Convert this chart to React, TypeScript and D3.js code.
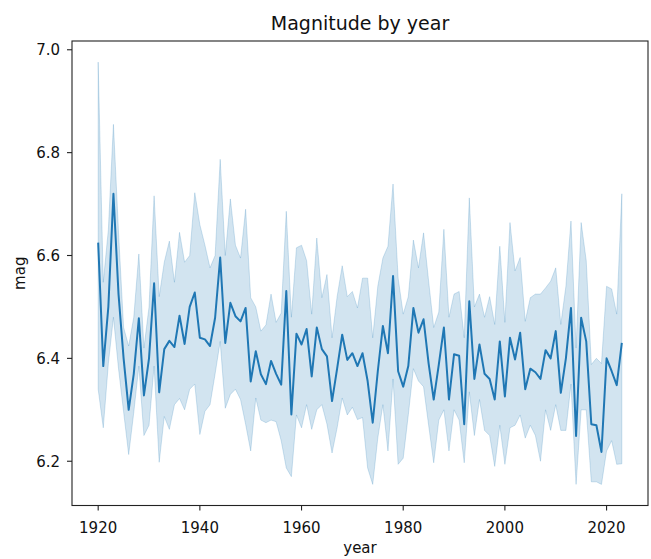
import React from "react";
import * as d3 from "d3";

const years: number[] = d3.range(1920, 2024);

const meanMag: number[] = [
  6.625, 6.385, 6.5, 6.72, 6.525, 6.4, 6.3, 6.37, 6.478, 6.328,
  6.4, 6.546, 6.334, 6.418, 6.434, 6.422, 6.483, 6.428, 6.5, 6.528,
  6.44, 6.437, 6.424, 6.479, 6.596, 6.43, 6.508, 6.482, 6.472, 6.498,
  6.355, 6.414, 6.369, 6.35, 6.395, 6.37, 6.349, 6.531, 6.291, 6.448,
  6.427, 6.457, 6.365, 6.46, 6.418, 6.404, 6.317, 6.38, 6.446, 6.397,
  6.41, 6.385, 6.41, 6.356, 6.275, 6.375, 6.463, 6.41, 6.56, 6.375,
  6.345, 6.385, 6.498, 6.45, 6.476, 6.39, 6.32, 6.388, 6.46, 6.32,
  6.408, 6.405, 6.272, 6.511, 6.36, 6.427, 6.37, 6.36, 6.32, 6.433,
  6.326, 6.44, 6.398, 6.45, 6.34, 6.38, 6.373, 6.36, 6.416, 6.4,
  6.453, 6.333, 6.4, 6.498, 6.249, 6.479, 6.433, 6.272, 6.27, 6.218,
  6.4, 6.375, 6.348, 6.43,
];

const upperMag: number[] = [
  6.976, 6.548, 6.65, 6.855, 6.645, 6.46, 6.424, 6.48, 6.603, 6.42,
  6.5, 6.716, 6.52, 6.587, 6.628, 6.548, 6.645, 6.587, 6.6, 6.722,
  6.66, 6.62, 6.576, 6.6, 6.787, 6.6, 6.71, 6.62, 6.595, 6.69,
  6.518, 6.5, 6.453, 6.465, 6.525, 6.47, 6.488, 6.686, 6.48, 6.615,
  6.62, 6.59, 6.486, 6.634, 6.518, 6.563, 6.44, 6.52, 6.58, 6.52,
  6.53, 6.498, 6.556, 6.556, 6.44, 6.54, 6.595, 6.618, 6.739, 6.556,
  6.486, 6.52, 6.63, 6.576, 6.644, 6.55, 6.46, 6.49, 6.651, 6.48,
  6.525, 6.53, 6.44, 6.712, 6.5, 6.525, 6.48, 6.52, 6.466, 6.618,
  6.47, 6.664, 6.57, 6.596, 6.472, 6.518, 6.525, 6.525, 6.537, 6.55,
  6.576, 6.466, 6.54, 6.667, 6.42, 6.664, 6.59, 6.388, 6.4, 6.39,
  6.54, 6.535, 6.486, 6.72,
];

const lowerMag: number[] = [
  6.34, 6.265, 6.39, 6.48, 6.38, 6.296, 6.213, 6.295, 6.385, 6.25,
  6.27, 6.385, 6.198, 6.287, 6.262, 6.31, 6.322, 6.3, 6.34, 6.35,
  6.252, 6.297, 6.31, 6.37, 6.433, 6.303, 6.33, 6.34, 6.32, 6.272,
  6.22, 6.323, 6.28, 6.275, 6.28, 6.277, 6.24, 6.187, 6.17, 6.29,
  6.265, 6.31, 6.262, 6.3, 6.31, 6.272, 6.216, 6.265, 6.323, 6.29,
  6.305, 6.281, 6.285, 6.187, 6.155, 6.245, 6.31, 6.22, 6.36, 6.194,
  6.206, 6.29, 6.38, 6.356, 6.345, 6.27, 6.197, 6.28, 6.3, 6.22,
  6.3, 6.28, 6.197, 6.335, 6.25, 6.32, 6.26, 6.25, 6.19, 6.27,
  6.194, 6.265, 6.27, 6.29, 6.245, 6.27, 6.25, 6.2, 6.3, 6.26,
  6.31, 6.26, 6.26, 6.35, 6.155, 6.3, 6.3, 6.16, 6.16, 6.155,
  6.22, 6.24, 6.194, 6.195,
];

const xTicks: number[] = [1920, 1940, 1960, 1980, 2000, 2020];
const yTicks: number[] = [6.2, 6.4, 6.6, 6.8, 7.0];

const W = 651;
const H = 559;
const M = { left: 72, right: 648, top: 41, bottom: 505.5 };
const BLUE = "#1f77b4";
const FONT = "DejaVu Sans, sans-serif";

export default function App() {
  const x0 = d3.min(years)!, x1 = d3.max(years)!;
  const xPad = (x1 - x0) * 0.05;
  const x = d3.scaleLinear().domain([x0 - xPad, x1 + xPad]).range([M.left, M.right]);
  const yMin = d3.min(lowerMag)!, yMax = d3.max(upperMag)!;
  const yPad = (yMax - yMin) * 0.05;
  const y = d3.scaleLinear().domain([yMin - yPad, yMax + yPad]).range([M.bottom, M.top]);

  const rows = years.map((yr, i) => ({ yr, m: meanMag[i], lo: lowerMag[i], hi: upperMag[i] }));
  const area = d3.area<any>().x((d) => x(d.yr)).y0((d) => y(d.lo)).y1((d) => y(d.hi));
  const line = d3.line<any>().x((d) => x(d.yr)).y((d) => y(d.m));

  return (
    <svg width={W} height={H} style={{ position: "absolute", left: 0, top: 0, background: "#fff" }} fontFamily={FONT}>
      <rect x={0} y={0} width={W} height={H} fill="#fff" />
      <path d={area(rows) || ""} fill={BLUE} fillOpacity={0.2} stroke={BLUE} strokeOpacity={0.2} strokeWidth={1} />
      <path d={line(rows) || ""} fill="none" stroke={BLUE} strokeWidth={2} strokeLinejoin="round" />
      <rect x={M.left} y={M.top} width={M.right - M.left} height={M.bottom - M.top} fill="none" stroke="#222" strokeWidth={1.1} />
      {xTicks.map((t) => (
        <g key={t}>
          <line x1={x(t)} x2={x(t)} y1={M.bottom} y2={M.bottom + 5} stroke="#222" strokeWidth={1.1} />
          <text x={x(t)} y={M.bottom + 27.5} textAnchor="middle" fontSize={15} fill="#111">{t}</text>
        </g>
      ))}
      {yTicks.map((t) => (
        <g key={t}>
          <line x1={M.left - 5} x2={M.left} y1={y(t)} y2={y(t)} stroke="#222" strokeWidth={1.1} />
          <text x={M.left - 12} y={y(t) + 5.5} textAnchor="end" fontSize={15} fill="#111">{t.toFixed(1)}</text>
        </g>
      ))}
      <text x={(M.left + M.right) / 2} y={30} textAnchor="middle" fontSize={19} fill="#111">Magnitude by year</text>
      <text x={(M.left + M.right) / 2} y={553} textAnchor="middle" fontSize={15} fill="#111">year</text>
      <text transform={`translate(25, ${(M.top + M.bottom) / 2}) rotate(-90)`} textAnchor="middle" fontSize={15} fill="#111">mag</text>
    </svg>
  );
}
